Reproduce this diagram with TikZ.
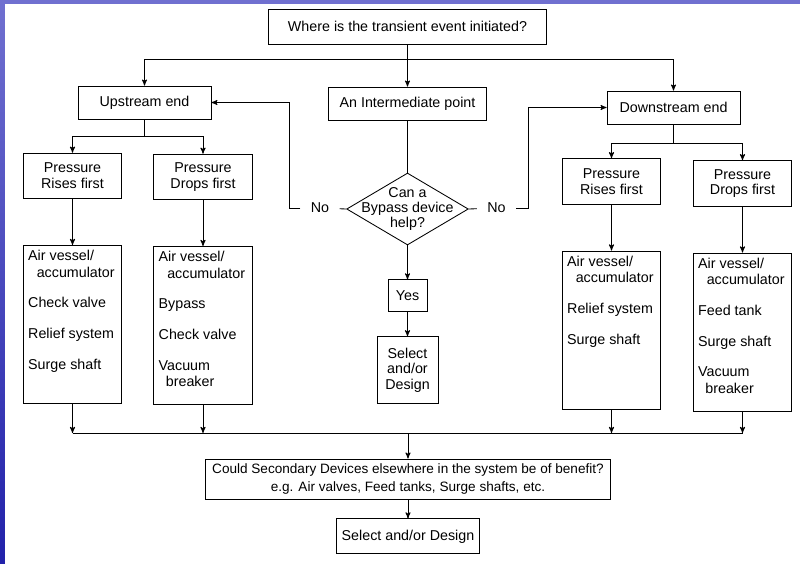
\documentclass[tikz,border=0pt]{standalone}
\usepackage{fontspec}
\setmainfont{Liberation Sans}
\usetikzlibrary{
        arrows,
        positioning,
        shapes.geometric
    }
\definecolor{slidetop}{RGB}{112,112,208}
\definecolor{slidebot}{RGB}{34,34,170}
\tikzset{>=stealth',auto}
\newcommand{\devlist}[1]{\parbox[c][103.6pt][t]{62pt}{\raggedright #1}}

\begin{document}
\begin{tikzpicture}[x=0.7pt,y=-0.7pt,line width=0.6pt,
                flowbox/.style={draw,rectangle,inner sep=2pt,align=center,font=\fontsize{10}{11}\selectfont},
                endbox/.style={flowbox,minimum width=93pt,minimum height=23pt},
                firstbox/.style={flowbox,minimum width=69pt,minimum height=32pt},
                listbox/.style={draw,rectangle,inner sep=3.5pt,font=\fontsize{10}{11.5}\selectfont},
                ask/.style={draw,diamond,shape aspect=1.69,inner sep=-5.6pt,align=center,font=\fontsize{10}{10.5}\selectfont},
                answer/.style={inner xsep=7pt,inner ysep=1pt,font=\fontsize{10}{11}\selectfont}]
                \useasboundingbox (0,0) rectangle (800,563);
                \shade[top color=slidetop,bottom color=slidebot] (0,0) rectangle (800,563);
                \fill[white] (5,4) rectangle (802,566);
                \node[flowbox,minimum width=195pt,minimum height=24.5pt] (where) at (407.5,26.5) {Where is the transient event initiated?};
                \node[endbox] (up) at (144.5,102.5) {Upstream end};
                \node[flowbox,minimum width=110.6pt,minimum height=23pt] (mid) at (407.5,103.5) {An Intermediate point};
                \node[endbox] (down) at (673.5,107.5) {Downstream end};
                \node[firstbox] (prL) at (72.5,176) {Pressure\\Rises first};
                \node[firstbox] (pdL) at (203,177) {Pressure\\Drops first};
                \node[firstbox] (prR) at (611.5,181.5) {Pressure\\Rises first};
                \node[firstbox] (pdR) at (742.5,183.5) {Pressure\\Drops first};
                \node[listbox] [below=32pt of prL] (l1) {\devlist{Air vessel/\\\hspace*{6pt}accumulator\\[10pt]Check valve\\[10pt]Relief system\\[10pt]Surge shaft}};
                \node[listbox] [below=32pt of pdL] (l2) {\devlist{Air vessel/\\\hspace*{6pt}accumulator\\[10pt]Bypass\\[10pt]Check valve\\[10pt]Vacuum\\\hspace*{5pt}breaker}};
                \node[listbox] [below=32pt of prR] (l3) {\devlist{Air vessel/\\\hspace*{6pt}accumulator\\[10pt]Relief system\\[10pt]Surge shaft}};
                \node[listbox] [below=32pt of pdR] (l4) {\devlist{Air vessel/\\\hspace*{6pt}accumulator\\[10pt]Feed tank\\[10pt]Surge shaft\\[10pt]Vacuum\\\hspace*{5pt}breaker}};
                \node[ask] (bypass) at (407.5,209) {Can a\\Bypass device\\help?};
                \node[answer] (noL) at (320,208) {No};
                \node[answer] (noR) at (496.5,208) {No};
                \node[flowbox,minimum width=27.3pt,minimum height=22.4pt] [below=23.8pt of bypass] (yes) {Yes};
                \node[flowbox,minimum width=42.7pt,minimum height=46.9pt] [below=16.8pt of yes] (sel) {Select\\and/or\\Design};
                \node[flowbox,minimum width=284pt,minimum height=28pt,font=\fontsize{9.5}{12}\selectfont] (could) at (408,479) {Could Secondary Devices elsewhere in the system be of benefit?\\e.g. Air valves, Feed tanks, Surge shafts, etc.};
                \node[flowbox,minimum width=100pt,minimum height=24.5pt] [below=13.3pt of could] (final) {Select and/or Design};
                \coordinate (split) at (407.5,59);
                \coordinate (upsplit) at (144.5,136);
                \coordinate (downsplit) at (673.5,143);
                \coordinate (turnL) at (289,208);
                \coordinate (turnR) at (528,208);
                \coordinate (merge) at (408,433);
                \draw[->] (where) -- (mid);
                \draw[->] (split) -| (up);
                \draw[->] (split) -| (down);
                \draw (mid) -- (bypass);
                \draw (bypass.west) -- (noL);
                \draw[->] (noL) -- (turnL) |- (up);
                \draw (bypass.east) -- (noR);
                \draw[->] (noR) -- (turnR) |- (down);
                \draw[->] (bypass) -- (yes);
                \draw[->] (yes) -- (sel);
                \draw (up) -- (upsplit);
                \draw[->] (upsplit) -| (prL);
                \draw[->] (upsplit) -| (pdL);
                \draw (down) -- (downsplit);
                \draw[->] (downsplit) -| (prR);
                \draw[->] (downsplit) -| (pdR);
                \draw[->] (prL) -- (l1);
                \draw[->] (pdL) -- (l2);
                \draw[->] (prR) -- (l3);
                \draw[->] (pdR) -- (l4);
                \draw[->] (l1) -- (l1 |- merge);
                \draw[->] (l2) -- (l2 |- merge);
                \draw[->] (l3) -- (l3 |- merge);
                \draw[->] (l4) -- (l4 |- merge);
                \draw (l1 |- merge) -- (l4 |- merge);
                \draw[->] (merge) -- (could);
                \draw[->] (could) -- (final);
            \end{tikzpicture}
\end{document}
